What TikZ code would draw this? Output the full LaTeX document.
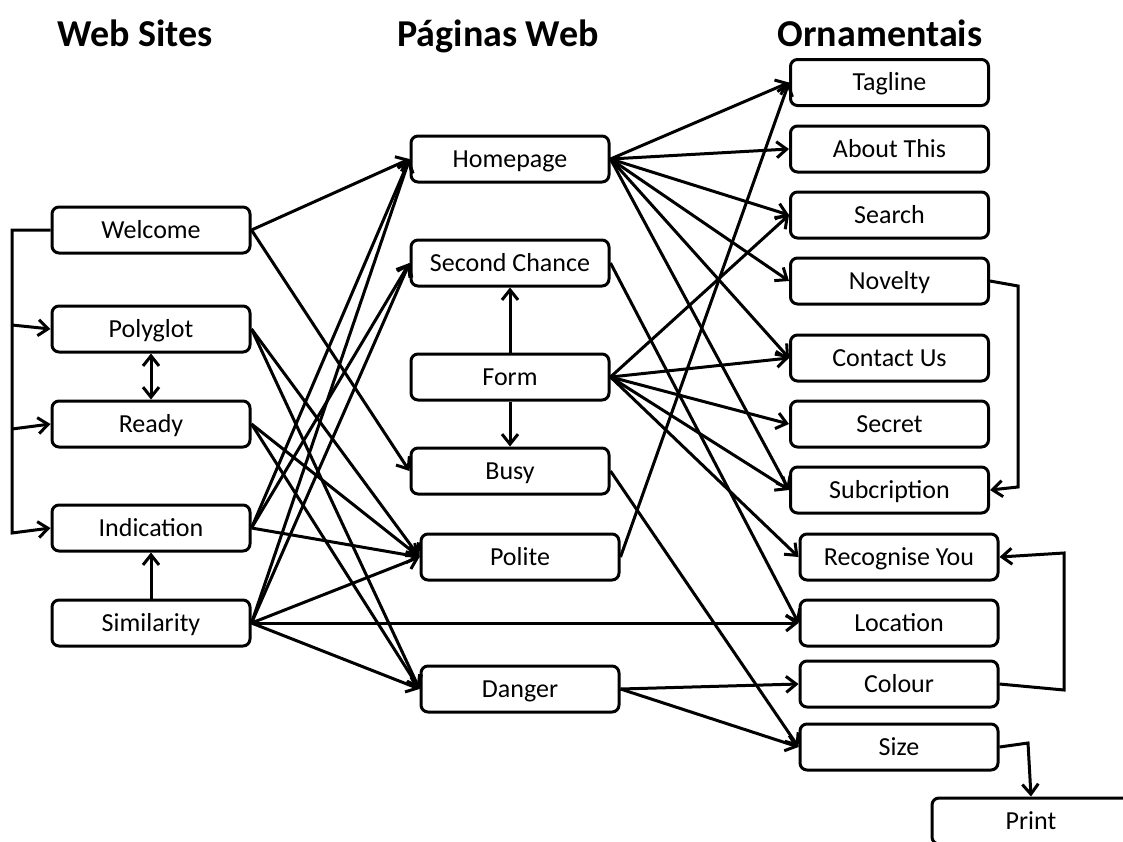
\documentclass[tikz,border=0pt]{standalone}
\usepackage{fontspec}
\setmainfont{Carlito}
\usetikzlibrary{arrows.meta}
\begin{document}
\begin{tikzpicture}[x=1pt,y=-1pt,
  box/.style={draw, rounded corners=7pt, line width=3pt, minimum width=198pt, minimum height=46pt, inner sep=0pt, text height=17pt, text depth=1pt, font=\fontsize{26}{30}\selectfont},
  head/.style={anchor=base, font=\bfseries\fontsize{38}{44}\selectfont},
  conn/.style={line width=3pt, -{Straight Barb[length=10pt,width=16pt]}},
  dconn/.style={line width=3pt, {Straight Barb[length=10pt,width=16pt]}-{Straight Barb[length=10pt,width=16pt]}},
]
\useasboundingbox (0,0) rectangle (1123,841);
\clip (0,0) rectangle (1123,841);
% headings
\node[head] (h1) at (135,46) {Web Sites};
\node[head] (h2) at (498,46) {Páginas Web};
\node[head] (h3) at (880,46) {Ornamentais};
% left column
\node[box] (welcome) at (151,230) {Welcome};
\node[box] (polyglot) at (151,329) {Polyglot};
\node[box] (ready) at (151,424) {Ready};
\node[box] (indication) at (151,528) {Indication};
\node[box] (similarity) at (151,623) {Similarity};
% middle column
\node[box] (homepage) at (510,159) {Homepage};
\node[box] (second) at (510,263) {Second Chance};
\node[box] (form) at (510,377) {Form};
\node[box] (busy) at (510,471) {Busy};
\node[box] (polite) at (520,557) {Polite};
\node[box] (danger) at (520,689) {Danger};
% right column
\node[box] (tagline) at (889.5,82.5) {Tagline};
\node[box] (about) at (889.5,149) {About This};
\node[box] (search) at (889.5,215) {Search};
\node[box] (novelty) at (889.5,281) {Novelty};
\node[box] (contact) at (889.5,358) {Contact Us};
\node[box] (secret) at (889.5,424) {Secret};
\node[box] (subc) at (889.5,490) {Subcription};
\node[box] (recog) at (899,557) {Recognise You};
\node[box] (location) at (899,623) {Location};
\node[box] (colour) at (899,684) {Colour};
\node[box] (size) at (899,747) {Size};
\node[box] (print) at (1031,821) {Print};
% left bracket
\coordinate (bTop) at (12,230);
\coordinate (bA) at (12,325);
\coordinate (bB) at (12,429);
\coordinate (bC) at (12,533);
\draw[conn] (welcome.west) -- (bTop) -- (bC) -- (indication.west);
\draw[conn] (bA) -- (polyglot.west);
\draw[conn] (bB) -- (ready.west);
\draw[dconn] (polyglot.south) -- (ready.north);
\draw[conn] (similarity.north) -- (indication.south);
% left to middle
\draw[conn] (welcome.east) -- (homepage.west);
\draw[conn] (welcome.east) -- (busy.west);
\draw[conn] (polyglot.east) -- (polite.west);
\draw[conn] (polyglot.east) -- (danger.west);
\draw[conn] (ready.east) -- (polite.west);
\draw[conn] (ready.east) -- (danger.west);
\draw[conn] (indication.east) -- (homepage.west);
\draw[conn] (indication.east) -- (second.west);
\draw[conn] (indication.east) -- (polite.west);
\draw[conn] (similarity.east) -- (homepage.west);
\draw[conn] (similarity.east) -- (second.west);
\draw[conn] (similarity.east) -- (polite.west);
\draw[conn] (similarity.east) -- (location.west);
\draw[conn] (similarity.east) -- (danger.west);
% middle internal
\draw[conn] (form.north) -- (second.south);
\draw[conn] (form.south) -- (busy.north);
% middle to right
\draw[conn] (homepage.east) -- (tagline.west);
\draw[conn] (homepage.east) -- (about.west);
\draw[conn] (homepage.east) -- (search.west);
\draw[conn] (homepage.east) -- (novelty.west);
\draw[conn] (homepage.east) -- (contact.west);
\draw[conn] (homepage.east) -- (subc.west);
\draw[conn] (second.east) -- (location.west);
\draw[conn] (form.east) -- (search.west);
\draw[conn] (form.east) -- (contact.west);
\draw[conn] (form.east) -- (secret.west);
\draw[conn] (form.east) -- (subc.west);
\draw[conn] (form.east) -- (recog.west);
\draw[conn] (busy.east) -- (size.west);
\draw[conn] (polite.east) -- (tagline.west);
\draw[conn] (danger.east) -- (colour.west);
\draw[conn] (danger.east) -- (size.west);
% right side loops
\coordinate (nv1) at (1018,286);
\coordinate (nv2) at (1018,487);
\draw[conn] (novelty.east) -- (nv1) -- (nv2) -- (subc.east);
\coordinate (co1) at (1064,690);
\coordinate (co2) at (1064,553);
\draw[conn] (colour.east) -- (co1) -- (co2) -- (recog.east);
\coordinate (sz1) at (1028,743);
\draw[conn] (size.east) -- (sz1) -- (print.north);
\end{tikzpicture}
\end{document}
